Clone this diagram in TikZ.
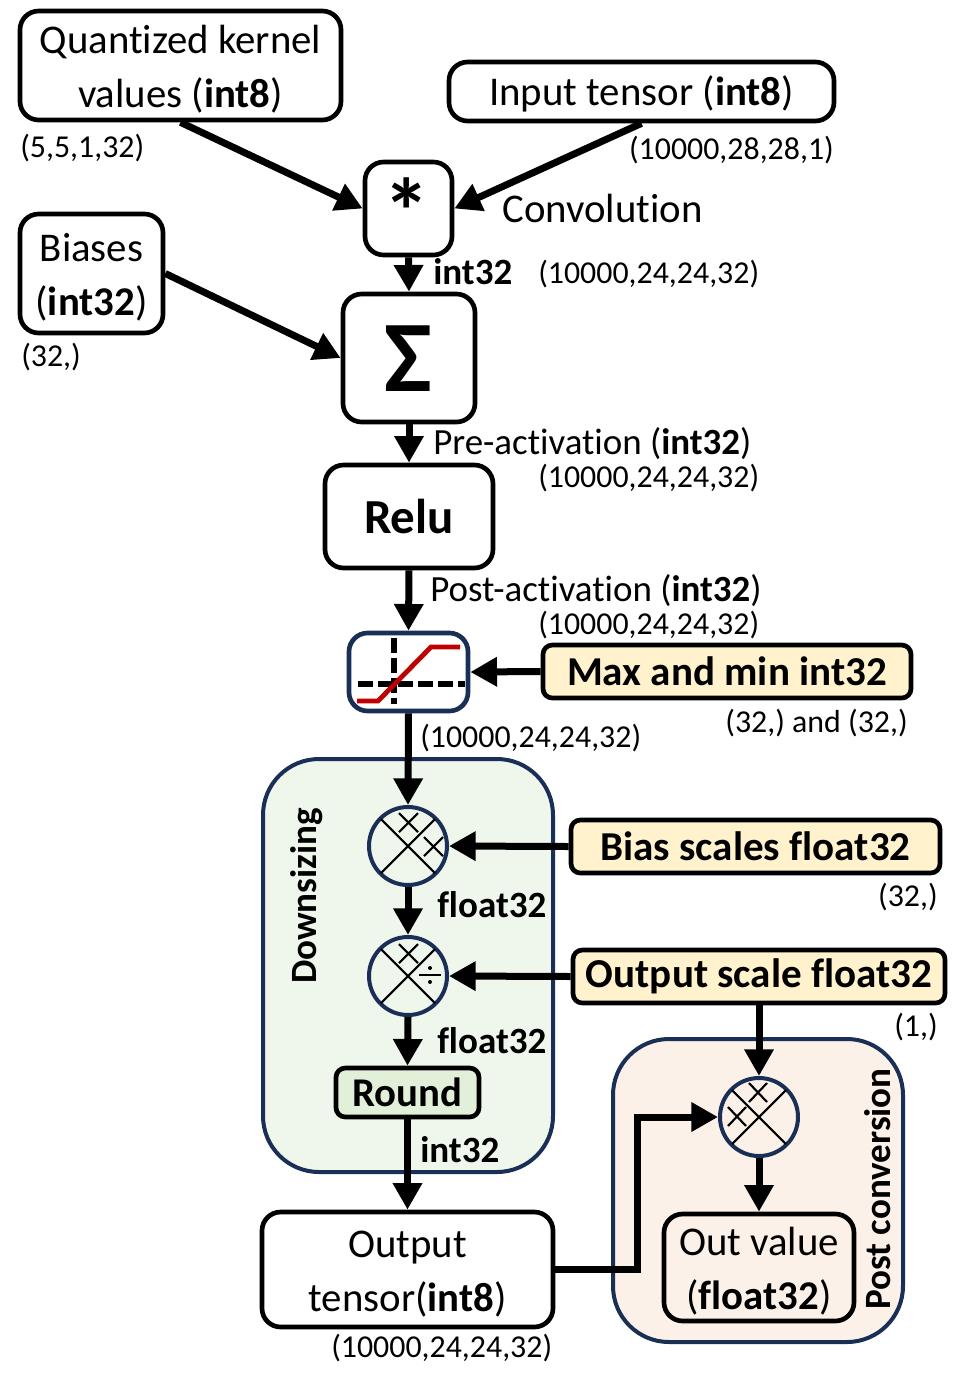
\documentclass[tikz,border=0pt]{standalone}
\usepackage{fontspec}
\setmainfont[RawFeature={-liga;-dlig;-clig}]{Carlito}
\usetikzlibrary{arrows.meta,calc}
\definecolor{navy}{HTML}{1A2F55}
\definecolor{cream}{HTML}{FFF2CC}
\definecolor{greenbg}{HTML}{EFF6EC}
\definecolor{greenbox}{HTML}{E2F0D9}
\definecolor{peachbg}{HTML}{FBF1E9}
\definecolor{clipred}{HTML}{C00000}
\newcommand{\boxat}[6][box]{\node[#1,minimum width=#4*0.75pt,minimum height=#5*0.75pt] (#2) at (#3) {#6};}
\newcommand{\dnstrut}{\rule{0pt}{26pt}}
\tikzset{
 x=0.75pt,y=-0.75pt,
 box/.style={draw=black,line width=3.5pt,rounded corners=14pt,inner sep=0pt,align=center,font=\fontsize{30.6}{40.5}\selectfont},
 navybox/.style={box,draw=navy},
 keybox/.style={box,fill=cream,rounded corners=7pt,font=\fontsize{30.8}{40}\selectfont\bfseries},
 groupbox/.style={draw=navy,line width=3pt,rounded corners=42pt,inner sep=0pt},
 circ/.style={circle,draw=navy,line width=3pt,inner sep=0pt,minimum size=78*0.75pt},
 flow/.style={line width=5.25pt,-{Triangle[length=20pt,width=21pt]}},
 dimlabel/.style={font=\fontsize{23.9}{28}\selectfont,inner sep=0pt},
 mainlabel/.style={font=\fontsize{30.6}{36}\selectfont,inner sep=0pt},
 midlabel/.style={font=\fontsize{27.7}{32}\selectfont,inner sep=0pt},
 boldlabel/.style={font=\fontsize{27.8}{32}\selectfont\bfseries,inner sep=0pt},
 sym/.style={line width=1.6pt,line cap=butt},
 icondash/.style={line width=3.8pt,dash pattern=on 11pt off 4pt},
}
\begin{document}
\begin{tikzpicture}
\useasboundingbox (0,0) rectangle (958,1386);
\fill[white] (0,0) rectangle (958,1386);
% groups
\node[groupbox,fill=greenbg,minimum width=290*0.75pt,minimum height=413*0.75pt] (down) at (408,965.5) {};
\node[groupbox,fill=peachbg,minimum width=290*0.75pt,minimum height=303*0.75pt] (post) at (758,1190.5) {};
% boxes
\boxat{kernel}{180.5,65.5}{321}{109}{\dnstrut Quantized kernel\\values (\textbf{int8})}
\boxat{input}{641.5,91.5}{385}{59}{\dnstrut Input tensor (\textbf{int8})}
\boxat{star}{408.5,208.5}{87}{93}{}
\boxat{biases}{91.5,273.5}{143}{119}{\dnstrut Biases\\(\textbf{int32})}
\boxat{sigma}{409,358}{132}{128}{}
\boxat{relu}{409,516.5}{168}{103}{\raisebox{-1.5pt}{\fontsize{36.7}{44}\selectfont\bfseries Relu}}
\boxat[navybox]{clip}{408.5,672}{119}{78}{}
\boxat[keybox]{maxmin}{727,671.5}{368}{53}{\raisebox{-0.8pt}{Max and min int32}}
\boxat[keybox]{bscale}{755.5,846.5}{369}{53}{Bias scales float32}
\boxat[keybox]{oscale}{759,976.5}{372}{53}{\raisebox{-1.5pt}{Output scale float32}}
\boxat[box,fill=greenbox,rounded corners=7pt,font=\fontsize{30.6}{40}\selectfont\bfseries]{round}{407.5,1092.5}{143}{49}{Round}
\boxat{output}{407.5,1269.5}{291}{115}{\dnstrut Output\\tensor(\textbf{int8})}
\boxat{outval}{759,1267.5}{190}{107}{\dnstrut Out value\\(\textbf{float32})}
\node[font=\fontsize{70}{70}\selectfont\bfseries,inner sep=0pt] (starsym) at (407,211) {*};
\node[font=\fontsize{76}{76}\selectfont\bfseries,inner sep=0pt] (sigmasym) at (408,359) {Σ};
% operators
\node[circ] (m1) at (408,846) {};
\node[circ] (m2) at (408,976) {};
\node[circ] (m3) at (759,1117) {};
\foreach \n in {m1,m2,m3}{
 \draw[sym] ($(\n)+(-27,-27)$) -- ($(\n)+(27,27)$);
 \draw[sym] ($(\n)+(27,-27)$) -- ($(\n)+(-27,27)$);
}
\draw[sym] (399,813) -- (418,832) (418,813) -- (399,832);
\draw[sym] (424,837) -- (443,856) (443,837) -- (424,856);
\draw[sym] (399,944) -- (418,963) (418,944) -- (399,963);
\draw[sym] (419,975) -- (441,975);
\fill (430,968) circle (2);
\fill (430,982) circle (2);
\draw[sym] (749,1083) -- (767,1102) (767,1083) -- (749,1102);
\draw[sym] (728,1107) -- (746,1126) (746,1107) -- (728,1126);
% clip icon
\draw[icondash] (394,638) -- (394,704);
\draw[icondash] (358,684) -- (465,684);
\draw[line width=3.6pt,clipred] (357,701) -- (378,701) -- (431,647) -- (460,647);
% connectors
\draw[flow] (kernel.south) -- (star.west);
\draw[flow] (input.south) -- (star.east);
\draw[flow] (star.south) -- (sigma.north);
\draw[flow] (biases.east) -- (sigma.west);
\draw[flow] (sigma.south) -- (relu.north);
\draw[flow] (relu.south) -- (clip.north);
\draw[flow] (maxmin.west) -- (clip.east);
\draw[flow] (clip.south) -- (m1.north);
\draw[flow] (bscale.west) -- (m1.east);
\draw[flow] (m1.south) -- (m2.north);
\draw[flow] (oscale.west) -- (m2.east);
\draw[flow] (m2.south) -- (round.north);
\draw[flow] (round.south) -- (output.north);
\draw[flow] (oscale.south) -- (m3.north);
\draw[flow] (output.east) -- (637,1269.5) -- (637,1117) -- (m3.west);
\draw[flow] (m3.south) -- (outval.north);
% labels
\node[dimlabel,anchor=west] (l1) at (20,148) {(5,5,1,32)};
\node[dimlabel,anchor=east] (l2) at (834,150) {(10000,28,28,1)};
\node[mainlabel,anchor=west] (l3) at (502,208) {Convolution};
\node[boldlabel,anchor=west] (l4) at (433,272) {int32};
\node[dimlabel,anchor=west] (l5) at (538,274) {(10000,24,24,32)};
\node[dimlabel,anchor=west] (l6) at (21,357) {(32,)};
\node[midlabel,anchor=west] (l7) at (433,444) {Pre-activation (\textbf{int32})};
\node[dimlabel,anchor=west] (l8) at (538,478) {(10000,24,24,32)};
\node[midlabel,anchor=west] (l9) at (430,591) {Post-activation (\textbf{int32})};
\node[dimlabel,anchor=west] (l10) at (538,625) {(10000,24,24,32)};
\node[dimlabel,anchor=west] (l11) at (420,738) {(10000,24,24,32)};
\node[dimlabel,anchor=east] (l12) at (908,723) {(32,) and (32,)};
\node[dimlabel,anchor=east] (l13) at (938,897) {(32,)};
\node[dimlabel,anchor=east] (l14) at (938,1027) {(1,)};
\node[boldlabel,anchor=west] (l15) at (437,905) {float32};
\node[boldlabel,anchor=west] (l16) at (437,1041) {float32};
\node[boldlabel,anchor=west] (l17) at (420,1150) {int32};
\node[dimlabel,anchor=west] (l18) at (331,1348) {(10000,24,24,32)};
\node[boldlabel,rotate=90] (l19) at (307,896) {Downsizing};
\node[boldlabel,rotate=90] (l20) at (878,1189) {Post conversion};
\end{tikzpicture}
\end{document}
